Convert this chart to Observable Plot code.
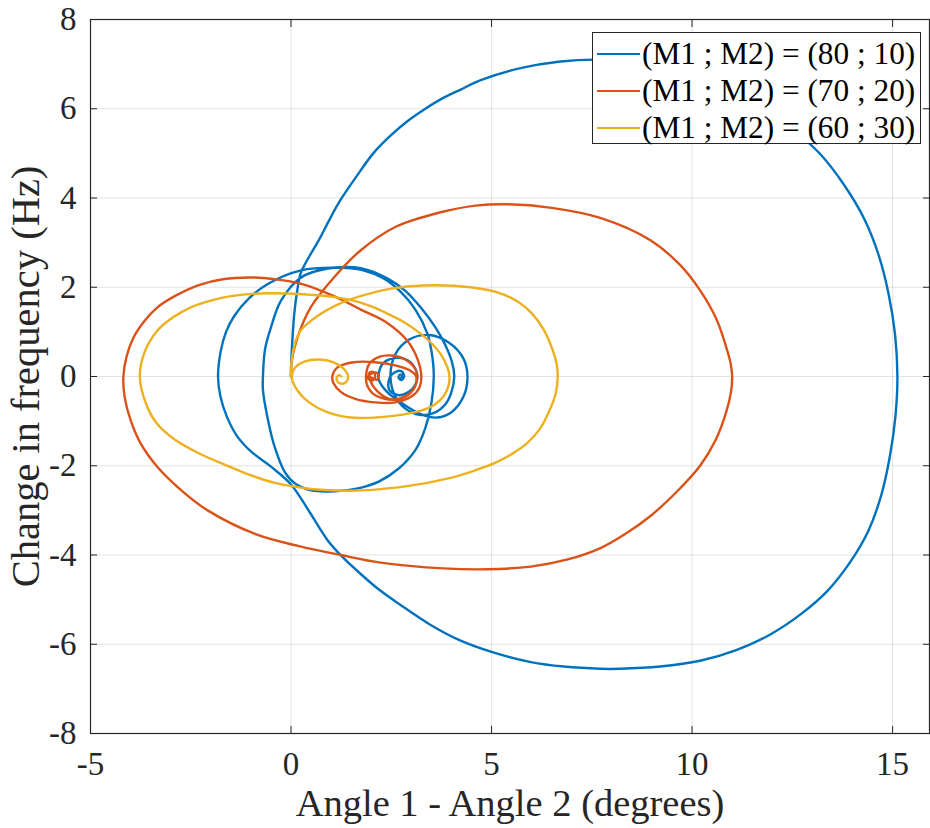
<!DOCTYPE html>
<html>
<head>
<meta charset="utf-8">
<script src="https://cdn.jsdelivr.net/npm/d3@7"></script>
<script src="https://cdn.jsdelivr.net/npm/@observablehq/plot@0.6"></script>
<style>
  body { margin: 0; background: #fff; }
  #wrap { position: relative; width: 930px; height: 828px; font-family: "Liberation Serif", "Times New Roman", serif; }
  #legend { position: absolute; left: 592px; top: 32px; width: 329px; height: 112px; background: #fff; border: 1px solid #262626; box-sizing: border-box; font-size: 31.3px; color: #000; }
  .row { position: absolute; left: 0; height: 37px; display: flex; align-items: center; white-space: nowrap; }
  .sw { width: 43px; height: 0; border-top: 2.6px solid; margin-left: 4px; margin-right: 2px; }
</style>
</head>
<body>
<div id="wrap"><div id="chart"></div><div id="legend"></div></div>
<script>
// Series names and colours
const seriesNames = ["(M1 ; M2) = (80 ; 10)", "(M1 ; M2) = (70 ; 20)", "(M1 ; M2) = (60 ; 30)"];
const seriesColors = ["#0072BD", "#D95319", "#EDB120"];

// Axis ticks
const xTicks = [-5, 0, 5, 10, 15];
const yTicks = [-8, -6, -4, -2, 0, 2, 4, 6, 8];

// Trajectories: [angle difference (deg), change in frequency (Hz)]
const series8010 = [[0,0],[0.01,0.4],[0.04,0.9],[0.08,1.4],[0.15,1.9],[0.24,2.31],[0.35,2.52],[0.46,2.7],[0.69,3.05],[0.95,3.5],[1.23,3.95],[1.63,4.48],[2.05,5.0],[2.46,5.38],[2.9,5.72],[3.33,5.99],[3.73,6.21],[4.23,6.43],[4.73,6.64],[5.72,6.91],[6.72,7.06],[7.72,7.1],[8.7,7.02],[9.72,6.82],[10.7,6.5],[11.7,6.07],[12.5,5.55],[13.2,4.98],[13.8,4.28],[14.3,3.52],[14.66,2.7],[14.9,1.85],[15.06,0.95],[15.12,0],[15.07,-0.9],[14.93,-1.8],[14.72,-2.65],[14.4,-3.45],[13.95,-4.15],[13.4,-4.78],[12.72,-5.32],[11.95,-5.78],[11.1,-6.13],[10.2,-6.37],[9.2,-6.5],[8.2,-6.55],[7.72,-6.55],[6.8,-6.5],[5.98,-6.4],[5.1,-6.2],[4.23,-5.92],[3.45,-5.55],[2.73,-5.12],[2.2,-4.78],[1.73,-4.42],[1.3,-4.06],[0.92,-3.68],[0.45,-3.02],[0.0,-2.42],[-0.5,-2.02],[-1.0,-1.68],[-1.35,-1.33],[-1.6,-0.9],[-1.76,-0.45],[-1.82,0],[-1.75,0.58],[-1.62,1.0],[-1.42,1.35],[-1.05,1.75],[-0.57,2.08],[0.25,2.38],[1.07,2.44],[1.8,2.38],[2.3,2.2],[2.73,1.9],[3.1,1.5],[3.4,0.96],[3.53,0.4],[3.56,0],[3.5,-0.6],[3.35,-1.15],[3.1,-1.65],[2.7,-2.05],[2.2,-2.35],[1.7,-2.5],[1.1,-2.57],[0.5,-2.55],[0.1,-2.4],[-0.15,-2.15],[-0.4,-1.6],[-0.58,-0.95],[-0.7,-0.3],[-0.7,0],[-0.65,0.6],[-0.5,1.1],[-0.25,1.7],[0.25,2.22],[0.92,2.42],[1.74,2.43],[2.4,2.2],[2.85,1.92],[3.23,1.55],[3.6,1.1],[3.85,0.7],[4.02,0.3],[4.07,0],[4.0,-0.35],[3.85,-0.62],[3.55,-0.82],[3.2,-0.86],[2.85,-0.72],[2.6,-0.45],[2.48,0],[2.6,0.5],[2.95,0.83],[3.45,0.93],[3.95,0.75],[4.3,0.4],[4.4,0],[4.3,-0.45],[4.0,-0.8],[3.65,-0.92],[3.25,-0.85],[2.8,-0.62],[2.4,-0.35],[2.2,-0.1],[2.18,0],[2.3,0.3],[2.66,0.42],[3.0,0.3],[3.15,0],[3.02,-0.28],[2.7,-0.42],[2.45,-0.3],[2.45,-0.05],[2.6,0.1],[2.75,0.12],[2.82,0],[2.75,-0.08],[2.68,-0.02],[2.72,0.04],[2.78,0.02],[2.75,-0.02]];

const series7020 = [[0,0],[0.01,0.3],[0.16,0.87],[0.49,1.55],[1.07,2.22],[1.74,2.83],[2.6,3.35],[3.73,3.68],[4.6,3.83],[5.4,3.86],[6.5,3.78],[7.73,3.55],[8.97,3.05],[9.7,2.5],[10.2,1.93],[10.6,1.3],[10.82,0.75],[10.96,0.3],[11.0,0],[10.97,-0.35],[10.85,-0.8],[10.6,-1.4],[10.2,-2.0],[9.6,-2.6],[8.97,-3.12],[8.35,-3.52],[7.73,-3.84],[6.9,-4.1],[5.98,-4.26],[4.9,-4.32],[3.8,-4.3],[2.23,-4.17],[1.24,-4.0],[0.2,-3.8],[-0.83,-3.55],[-2.08,-3.0],[-2.8,-2.5],[-3.33,-2.03],[-3.75,-1.5],[-4.0,-0.98],[-4.15,-0.45],[-4.18,0],[-4.1,0.45],[-3.93,0.87],[-3.65,1.25],[-3.33,1.55],[-2.9,1.8],[-2.3,2.05],[-1.7,2.18],[-1.0,2.22],[-0.4,2.18],[0.24,2.08],[1.07,1.8],[1.74,1.5],[2.4,1.2],[2.9,0.8],[3.15,0.4],[3.25,0],[3.2,-0.25],[3.0,-0.45],[2.6,-0.58],[2.1,-0.58],[1.6,-0.5],[1.25,-0.35],[1.06,-0.15],[1.03,0],[1.15,0.2],[1.56,0.32],[2.1,0.32],[2.6,0.25],[3.0,0.12],[3.12,0],[3.05,-0.3],[2.6,-0.52],[2.1,-0.42],[1.9,-0.2],[1.87,0],[1.95,0.28],[2.2,0.44],[2.5,0.47],[2.85,0.38],[3.12,0.12],[3.1,-0.2],[2.85,-0.45],[2.45,-0.5],[2.15,-0.33],[1.98,-0.1],[1.95,0.08],[2.05,0.1],[2.1,0],[2.05,-0.08],[1.95,-0.07],[1.93,0],[2.05,0.08],[2.15,0.08],[2.18,0],[2.15,-0.07],[2.05,-0.05],[1.95,0]];

const series6030 = [[0,0],[0.01,0.3],[0.1,0.75],[0.24,1.03],[0.65,1.35],[1.23,1.64],[1.73,1.8],[2.5,1.97],[3.3,2.04],[4.48,2.0],[5.2,1.87],[5.65,1.68],[6.0,1.42],[6.3,1.05],[6.5,0.65],[6.62,0.3],[6.65,0],[6.6,-0.38],[6.45,-0.75],[6.2,-1.18],[5.88,-1.5],[5.5,-1.74],[5.1,-1.93],[4.6,-2.1],[3.98,-2.27],[2.73,-2.48],[1.48,-2.56],[0.5,-2.52],[-0.42,-2.38],[-1.1,-2.18],[-1.67,-1.97],[-2.3,-1.72],[-2.92,-1.4],[-3.35,-1.05],[-3.62,-0.6],[-3.77,0],[-3.65,0.55],[-3.33,1.03],[-2.95,1.32],[-2.5,1.55],[-2.0,1.7],[-1.5,1.8],[-0.8,1.86],[-0.1,1.86],[0.5,1.83],[1.0,1.79],[1.56,1.7],[2.0,1.57],[2.4,1.41],[2.85,1.2],[3.23,0.96],[3.55,0.7],[3.8,0.4],[3.95,0],[3.85,-0.38],[3.55,-0.65],[3.1,-0.8],[2.73,-0.86],[2.1,-0.92],[1.48,-0.92],[0.9,-0.8],[0.45,-0.58],[0.15,-0.3],[0.02,-0.02],[0.1,0.2],[0.35,0.34],[0.7,0.38],[1.05,0.32],[1.3,0.18],[1.42,0.02],[1.38,-0.12],[1.25,-0.16],[1.15,-0.1],[1.15,0],[1.2,0.03],[1.25,0]];

const allSeries = [series8010, series7020, series6030];
const rows = [];
allSeries.forEach((s, k) => s.forEach(([x, y], i) => rows.push({series: seriesNames[k], x, y, i})));

const fmt = d => String(d);
const axisColor = "#262626";

const chart = Plot.plot({
  width: 930,
  height: 828,
  marginLeft: 90,
  marginRight: 1,
  marginTop: 19,
  marginBottom: 95,
  style: {fontFamily: "Liberation Serif, Times New Roman, serif", fontSize: "33px", color: "#262626", background: "#fff"},
  x: {domain: [-5, 15.92]},
  y: {domain: [-8, 8]},
  color: {domain: seriesNames, range: seriesColors},
  marks: [
    Plot.gridX(xTicks, {stroke: axisColor, strokeOpacity: 0.13, strokeWidth: 1}),
    Plot.gridY(yTicks, {stroke: axisColor, strokeOpacity: 0.13, strokeWidth: 1}),
    Plot.line(rows, {x: "x", y: "y", z: "series", stroke: "series", strokeWidth: 2.4, curve: "catmull-rom"}),
    Plot.frame({stroke: axisColor, strokeWidth: 1.2}),
    Plot.axisX(xTicks, {anchor: "bottom", tickSize: -7, tickPadding: 25, tickFormat: fmt, fontSize: 33, stroke: axisColor, fill: "#262626",
      label: null}),
    Plot.axisX({anchor: "bottom", ticks: [], tickSize: 0, label: "Angle 1 - Angle 2 (degrees)", labelAnchor: "center", labelOffset: 82, labelArrow: "none", fontSize: 38.5, fill: "#262626"}),
    Plot.axisX(xTicks, {anchor: "top", tickSize: -7, tickFormat: () => "", label: null, stroke: axisColor}),
    Plot.axisY(yTicks, {anchor: "left", tickSize: -7, tickPadding: 21, tickFormat: fmt, fontSize: 33, stroke: axisColor, fill: "#262626",
      label: null}),
    Plot.axisY({anchor: "left", ticks: [], tickSize: 0, label: "Change in frequency (Hz)", labelAnchor: "center", labelOffset: 80, labelArrow: "none", fontSize: 40.5, fill: "#262626"}),
    Plot.axisY(yTicks, {anchor: "right", tickSize: -7, tickFormat: () => "", label: null, stroke: axisColor})
  ]
});
document.getElementById("chart").appendChild(chart);

// Legend
const legend = document.getElementById("legend");
seriesNames.forEach((name, k) => {
  const row = document.createElement("div");
  row.className = "row";
  row.style.top = (2 + k * 37) + "px";
  const sw = document.createElement("span");
  sw.className = "sw";
  sw.style.borderTopColor = seriesColors[k];
  const tx = document.createElement("span");
  tx.textContent = name;
  row.appendChild(sw);
  row.appendChild(tx);
  legend.appendChild(row);
});
</script>
</body>
</html>
